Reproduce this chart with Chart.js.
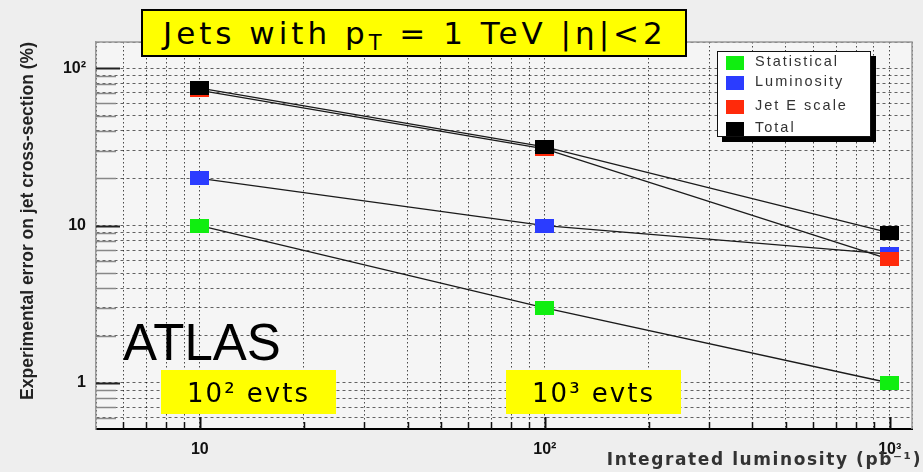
<!DOCTYPE html>
<html>
<head>
<meta charset="utf-8">
<script src="https://cdn.jsdelivr.net/npm/chart.js@4.4.0/dist/chart.umd.min.js"></script>
<style>
  html, body { margin: 0; padding: 0; background: #eeeeee; }
  #wrap { position: relative; width: 923px; height: 472px; overflow: hidden; }
  #chart { position: absolute; left: 0; top: 0; }
  .yellow { position: absolute; background: #ffff00; color: #000; font-family: "DejaVu Sans", sans-serif; }
  #title { left: 141px; top: 9px; width: 522px; height: 44px; border: 2px solid #000;
           font-size: 31px; line-height: 44px; padding-left: 20px; box-sizing: content-box; letter-spacing: 4px; white-space: nowrap; }
  #title sub { font-size: 21px; vertical-align: -6px; line-height: 0; }
  .evts { top: 370px; width: 175px; height: 44px; font-size: 26px; line-height: 46px; text-align: center; letter-spacing: 2px; }
  #atlas { position: absolute; left: 123px; top: 314px; font: 51px "Liberation Sans", Arial, sans-serif; color: #000; line-height: 58px; }
  #legend { position: absolute; left: 717px; top: 51px; width: 152px; height: 84px; background: #fff;
            border: 1.5px solid #111; box-shadow: 5px 5px 0 #000; }
  .row { position: absolute; left: 8px; height: 16px; font: 14.5px "Liberation Sans", Arial, sans-serif; color: #333; letter-spacing: 2px; }
  .row i { position: absolute; left: 0; top: 1px; width: 18px; height: 14px; }
  .row span { position: absolute; left: 29px; top: -2px; white-space: nowrap; }
</style>
</head>
<body>
<div id="wrap">
  <canvas id="chart" width="923" height="472"></canvas>
  <div id="title" class="yellow">Jets with p<sub>T</sub> = 1 TeV |η|&lt;2</div>
  <div id="atlas">ATLAS</div>
  <div class="yellow evts" style="left:161px">10² evts</div>
  <div class="yellow evts" style="left:506px">10³ evts</div>
  <div id="legend"></div>
</div>
<script>
// ── Données ──────────────────────────────────────────────
const lumi = [10, 100, 1000];                 // pb-1
const statErr = [10, 3.0, 1.0];
const lumiErr = [20, 10, 6.6];
const jesErr = [72.5, 30.8, 6.1];
const totalErr = [74.8, 31.7, 9.0];

const seriesLabels = ['Statistical', 'Luminosity', 'Jet E scale', 'Total'];
const seriesColors = ['#10ee10', '#2b3cff', '#ff2a0a', '#000000'];
const seriesValues = [statErr, lumiErr, jesErr, totalErr];

const xTickLabels = { 10: '10', 100: '10²', 1000: '10³' };
const yTickLabels = { 1: '1', 10: '10', 100: '10²' };
const xTitle = 'Integrated luminosity (pb⁻¹)';

// ── Marqueurs rectangulaires façon ROOT ──────────────────
const makeBox = (color) => {
    const c = document.createElement('canvas');
    c.width = 19; c.height = 14;
    const g = c.getContext('2d');
    g.fillStyle = color;
    g.fillRect(0, 0, 19, 14);
    return c;
};

const isDecade = (v) => Math.abs(Math.log10(v) - Math.round(Math.log10(v))) < 1e-6;
const keepInt = (scale) => {
    scale.ticks = scale.ticks.filter(t => {
        const s = t.value / Math.pow(10, Math.floor(Math.log10(t.value) + 1e-9));
        return Math.abs(s - Math.round(s)) < 1e-6 || t.value === scale.min || t.value === scale.max;
    });
};
const labelFor = (map) => (v) => {
    for (const k in map) { if (Math.abs(v - Number(k)) < 1e-6 * k) return map[k]; }
    return '';
};

// ── Cadre, fond, graduations internes ────────────────────
const framePlugin = {
    id: 'frame',
    beforeDraw(chart) {
        const { ctx, chartArea: a } = chart;
        ctx.save();
        ctx.fillStyle = '#eeeeee';
        ctx.fillRect(0, 0, chart.width, chart.height);
        ctx.fillStyle = '#f5f5f5';
        ctx.fillRect(a.left, a.top, a.right - a.left, a.bottom - a.top);
        ctx.restore();
    },
    beforeDatasetsDraw(chart) {
        const { ctx, chartArea: a, scales } = chart;
        ctx.save();
        // graduations Y (vers l'intérieur)
        scales.y.ticks.forEach(t => {
            if (t.value <= scales.y.min || t.value >= scales.y.max) return;
            const y = Math.round(scales.y.getPixelForValue(t.value)) + 0.5;
            const major = isDecade(t.value);
            ctx.strokeStyle = major ? '#222' : '#888';
            ctx.lineWidth = major ? 2 : 1.5;
            ctx.beginPath(); ctx.moveTo(a.left, y); ctx.lineTo(a.left + (major ? 24 : 20), y); ctx.stroke();
        });
        // graduations X
        scales.x.ticks.forEach(t => {
            if (t.value <= scales.x.min || t.value >= scales.x.max) return;
            const x = Math.round(scales.x.getPixelForValue(t.value)) + 0.5;
            const major = isDecade(t.value);
            ctx.strokeStyle = '#111';
            ctx.lineWidth = major ? 2 : 1.5;
            ctx.beginPath(); ctx.moveTo(x, a.bottom); ctx.lineTo(x, a.bottom - (major ? 12 : 7)); ctx.stroke();
        });
        // haut et droite du cadre
        ctx.strokeStyle = '#999';
        ctx.lineWidth = 1.5;
        ctx.beginPath();
        ctx.moveTo(a.left, a.top); ctx.lineTo(a.right, a.top); ctx.lineTo(a.right, a.bottom);
        ctx.stroke();
        ctx.restore();
    },
    afterDraw(chart) {
        // titre X espacé comme l'original
        const { ctx } = chart;
        ctx.save();
        ctx.font = 'bold 17px "DejaVu Sans"';
        ctx.letterSpacing = '1.6px';
        ctx.fillStyle = '#333';
        ctx.textAlign = 'right';
        ctx.textBaseline = 'middle';
        ctx.fillText(xTitle, 922, 461);
        ctx.restore();
    }
};

// ── Légende HTML ─────────────────────────────────────────
const legendEl = document.getElementById('legend');
const rowTops = [3, 23, 47, 69];
seriesLabels.forEach((lab, i) => {
    const r = document.createElement('div');
    r.className = 'row';
    r.style.top = rowTops[i] + 'px';
    r.innerHTML = '<i style="background:' + seriesColors[i] + '"></i><span>' + lab + '</span>';
    legendEl.appendChild(r);
});

// ── Graphique ────────────────────────────────────────────
const tickFont = { family: 'Liberation Sans', size: 16, weight: 'bold' };
const orders = [3, 2, 1, 0];

new Chart(document.getElementById('chart'), {
    type: 'line',
    data: {
        datasets: seriesLabels.map((lab, i) => ({
            label: lab,
            data: lumi.map((x, j) => ({ x: x, y: seriesValues[i][j] })),
            borderColor: '#1a1a1a',
            borderWidth: 1.3,
            tension: 0,
            fill: false,
            pointStyle: makeBox(seriesColors[i]),
            pointRadius: 8,
            pointHoverRadius: 8,
            order: orders[i]
        }))
    },
    options: {
        responsive: false,
        animation: false,
        events: [],
        layout: { padding: { top: 42, right: 5, left: 0, bottom: 0 } },
        plugins: { legend: { display: false }, tooltip: { enabled: false } },
        scales: {
            x: {
                type: 'logarithmic',
                min: 5,
                max: 1160,
                afterBuildTicks: keepInt,
                afterFit: (s) => { s.height = 43; },
                grid: { color: 'rgba(0,0,0,0.7)', lineWidth: 1, drawTicks: false },
                border: { color: '#000', width: 2, dash: [1.5, 2.5] },
                ticks: {
                    autoSkip: false, maxRotation: 0, padding: 11,
                    color: '#111', font: tickFont,
                    callback: labelFor(xTickLabels)
                },
                title: { display: false }
            },
            y: {
                type: 'logarithmic',
                min: 0.51,
                max: 147,
                afterBuildTicks: keepInt,
                afterFit: (s) => { s.width = 96; },
                grid: { color: 'rgba(0,0,0,0.6)', lineWidth: 1, drawTicks: false },
                border: { color: '#999', width: 1.5, dash: [3, 3] },
                ticks: {
                    autoSkip: false, padding: 10,
                    color: '#111', font: tickFont,
                    callback: labelFor(yTickLabels)
                },
                title: {
                    display: true, align: 'end',
                    text: 'Experimental error on jet cross-section (%)',
                    color: '#222',
                    font: { family: 'Liberation Sans', size: 17.5, weight: 'bold' },
                    padding: { top: 18, bottom: 0 }
                }
            }
        }
    },
    plugins: [framePlugin]
});
</script>
</body>
</html>
